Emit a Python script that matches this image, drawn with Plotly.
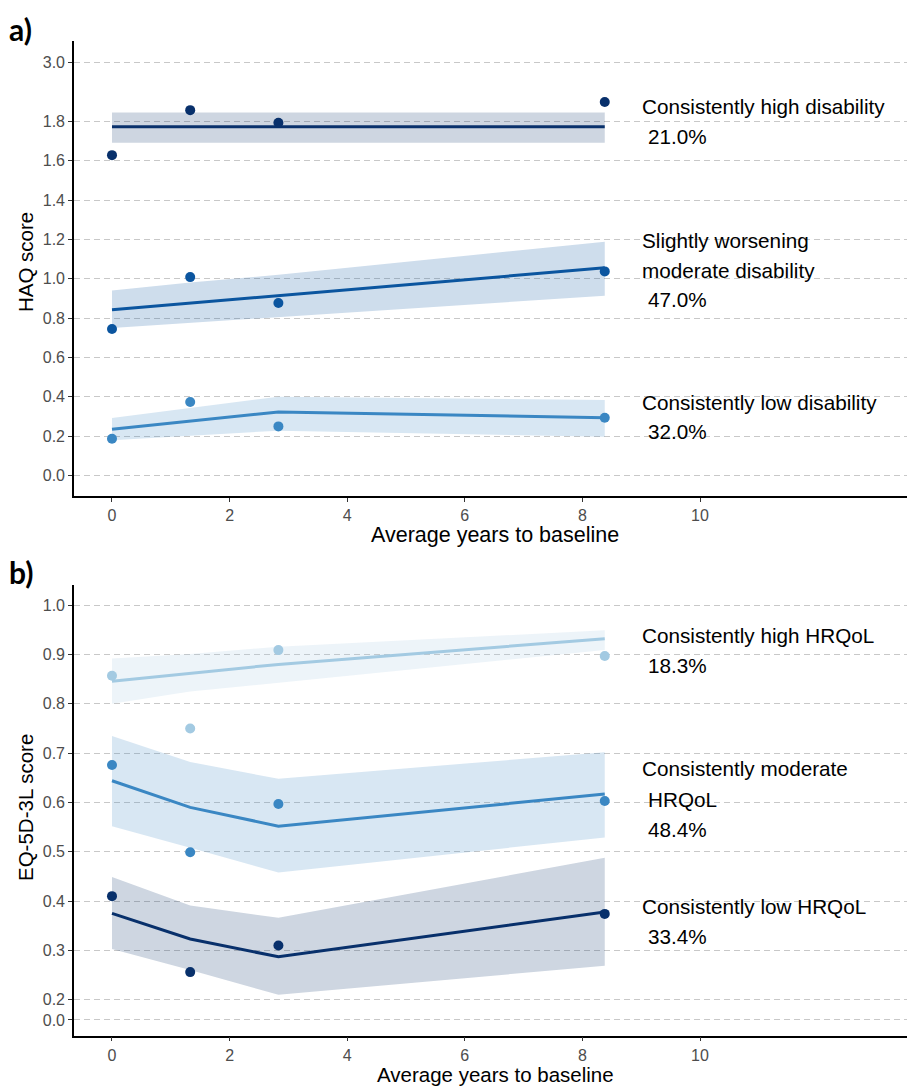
import plotly.graph_objects as go

# ---------------- data ----------------
years = [0, 1.33, 2.83, 8.38]

# Panel a) HAQ score
haq_high_pts = [1.628, 1.857, 1.793, 1.898]
haq_high_fit = [1.772, 1.772, 1.772, 1.772]
haq_high_lo = [1.691, 1.691, 1.691, 1.691]
haq_high_hi = [1.845, 1.845, 1.845, 1.845]

haq_mod_pts = [0.744, 1.008, 0.876, 1.037]
haq_mod_fit = [0.842, 0.876, 0.914, 1.055]
haq_mod_lo = [0.749, 0.775, 0.805, 0.913]
haq_mod_hi = [0.940, 0.980, 1.020, 1.188]

haq_low_pts = [0.186, 0.373, 0.249, 0.293]
haq_low_fit = [0.234, 0.277, 0.322, 0.293]
haq_low_lo = [0.179, 0.201, 0.227, 0.196]
haq_low_hi = [0.291, 0.342, 0.400, 0.383]

# Panel b) EQ-5D-3L score
eq_high_pts = [0.857, 0.750, 0.909, 0.897]
eq_high_fit = [0.846, 0.862, 0.880, 0.932]
eq_high_lo = [0.800, 0.825, 0.842, 0.909]
eq_high_hi = [0.892, 0.901, 0.916, 0.949]

eq_mod_pts = [0.676, 0.499, 0.597, 0.603]
eq_mod_fit = [0.644, 0.590, 0.552, 0.617]
eq_mod_lo = [0.552, 0.508, 0.458, 0.529]
eq_mod_hi = [0.735, 0.682, 0.648, 0.702]

eq_low_pts = [0.410, 0.256, 0.310, 0.374]
eq_low_fit = [0.375, 0.323, 0.287, 0.378]
eq_low_lo = [0.303, 0.260, 0.210, 0.269]
eq_low_hi = [0.449, 0.391, 0.366, 0.488]

# tick labels
x_tickvals = [0, 2, 4, 6, 8, 10]
haq_ticktext = ["0.0", "0.2", "0.4", "0.6", "0.8", "1.0", "1.2", "1.4", "1.6", "1.8", "3.0"]
eq_ticktext = ["0.0", "0.2", "0.3", "0.4", "0.5", "0.6", "0.7", "0.8", "0.9", "1.0"]

# class labels
haq_labels = [["Consistently high disability", "21.0%"],
              ["Slightly worsening", "moderate disability", "47.0%"],
              ["Consistently low disability", "32.0%"]]
eq_labels = [["Consistently high HRQoL", "18.3%"],
             ["Consistently moderate", "HRQoL", "48.4%"],
             ["Consistently low HRQoL", "33.4%"]]

# ---------------- styling ----------------
NAVY = "#08306b"
MID = "#0b559f"
BLUE = "#3a87c3"
LIGHT = "#a3cae2"

def band_fill(hexcol, a=0.2):
    h = hexcol.lstrip("#")
    r, g, b = int(h[0:2], 16), int(h[2:4], 16), int(h[4:6], 16)
    return f"rgba({r},{g},{b},{a})"

fig = go.Figure()

def add_group(xa, ya, pts, fit, lo, hi, col):
    fig.add_trace(go.Scatter(
        x=years + years[::-1], y=hi + lo[::-1], fill="toself",
        fillcolor=band_fill(col), line=dict(width=0), mode="lines",
        hoverinfo="skip", showlegend=False, xaxis=xa, yaxis=ya))
    fig.add_trace(go.Scatter(
        x=years, y=fit, mode="lines", line=dict(color=col, width=3),
        showlegend=False, xaxis=xa, yaxis=ya))
    fig.add_trace(go.Scatter(
        x=years, y=pts, mode="markers", marker=dict(color=col, size=10),
        showlegend=False, xaxis=xa, yaxis=ya))

add_group("x", "y", haq_high_pts, haq_high_fit, haq_high_lo, haq_high_hi, NAVY)
add_group("x", "y", haq_mod_pts, haq_mod_fit, haq_mod_lo, haq_mod_hi, MID)
add_group("x", "y", haq_low_pts, haq_low_fit, haq_low_lo, haq_low_hi, BLUE)

add_group("x2", "y2", eq_high_pts, eq_high_fit, eq_high_lo, eq_high_hi, LIGHT)
add_group("x2", "y2", eq_mod_pts, eq_mod_fit, eq_mod_lo, eq_mod_hi, BLUE)
add_group("x2", "y2", eq_low_pts, eq_low_fit, eq_low_lo, eq_low_hi, NAVY)

W, H = 907, 1088
TXT = "Liberation Sans, Arial, sans-serif"
TICKFONT = dict(family=TXT, size=16, color="#4d4d4d")

xcommon = dict(range=[-0.646, 13.52], tickvals=x_tickvals, showgrid=False,
               zeroline=False, showline=True, linecolor="black", linewidth=1.6,
               ticks="outside", ticklen=4, tickcolor="#333333", tickwidth=1,
               tickfont=TICKFONT)
ycommon = dict(zeroline=False, showline=True, linecolor="black", linewidth=1.6,
               ticks="outside", ticklen=4, tickcolor="#333333", tickwidth=1,
               tickfont=TICKFONT, showgrid=True, gridcolor="#c8c8c8",
               gridwidth=1, griddash="6px,4px")

xdom = [74 / W, 1.0]
ya_dom = [(H - 496) / H, (H - 40.7) / H]
yb_dom = [(H - 1035.5) / H, (H - 585) / H]

fig.update_layout(
    width=W, height=H, autosize=False,
    margin=dict(l=0, r=0, t=0, b=0),
    plot_bgcolor="white", paper_bgcolor="white",
    xaxis=dict(domain=xdom, anchor="y", **xcommon),
    yaxis=dict(domain=ya_dom, anchor="x", range=[-0.105, 2.21],
               tickvals=[0, 0.2, 0.4, 0.6, 0.8, 1.0, 1.2, 1.4, 1.6, 1.8, 2.1],
               ticktext=haq_ticktext, **ycommon),
    xaxis2=dict(domain=xdom, anchor="y2", **xcommon),
    yaxis2=dict(domain=yb_dom, anchor="x2", range=[0.1274, 1.041],
                tickvals=[0.159, 0.2, 0.3, 0.4, 0.5, 0.6, 0.7, 0.8, 0.9, 1.0],
                ticktext=eq_ticktext, **ycommon),
)

ann = []
# class labels (line positions in data units)
haq_label_y = [[1.874, 1.725], [1.196, 1.044, 0.895], [0.371, 0.222]]
eq_label_y = [[0.938, 0.877], [0.669, 0.607, 0.546], [0.389, 0.328]]

def add_labels(labels, ys, xr, yr):
    for lines, yl in zip(labels, ys):
        for i, (t, yv) in enumerate(zip(lines, yl)):
            indent = 6 if (i == len(lines) - 1 or t == "HRQoL") else 0
            ann.append(dict(text=t, x=9.0, y=yv, xref=xr, yref=yr,
                            xanchor="left", yanchor="middle", showarrow=False,
                            xshift=indent - 1,
                            font=dict(family=TXT, size=20.7, color="black")))

add_labels(haq_labels, haq_label_y, "x", "y")
add_labels(eq_labels, eq_label_y, "x2", "y2")

# axis titles
for ytxt, ypix in [("HAQ score", 262), ("EQ-5D-3L score", 808)]:
    ann.append(dict(text=ytxt, x=25 / W, y=(H - ypix) / H, xref="paper", yref="paper",
                    textangle=-90, showarrow=False, xanchor="center", yanchor="middle",
                    font=dict(family=TXT, size=20.5, color="black")))
ann.append(dict(text="Average years to baseline", x=495 / W,
                y=(H - 535) / H, xref="paper", yref="paper", showarrow=False,
                xanchor="center", yanchor="middle",
                font=dict(family=TXT, size=21.5, color="black")))
ann.append(dict(text="Average years to baseline", x=495 / W,
                y=0, xref="paper", yref="paper", showarrow=False,
                xanchor="center", yanchor="bottom",
                font=dict(family=TXT, size=20.5, color="black")))
# panel letters
for t, ypix in [("a)", 29), ("b)", 572)]:
    ann.append(dict(text="<b>" + t + "</b>", x=7 / W, y=(H - ypix) / H, xref="paper",
                    yref="paper", showarrow=False, xanchor="left", yanchor="middle",
                    font=dict(family="Lato, Open Sans, sans-serif", size=30, color="black")))

fig.update_layout(annotations=ann)

fig.write_html("out.html", config={"displayModeBar": False},
               post_script="document.body.style.margin='0';")
